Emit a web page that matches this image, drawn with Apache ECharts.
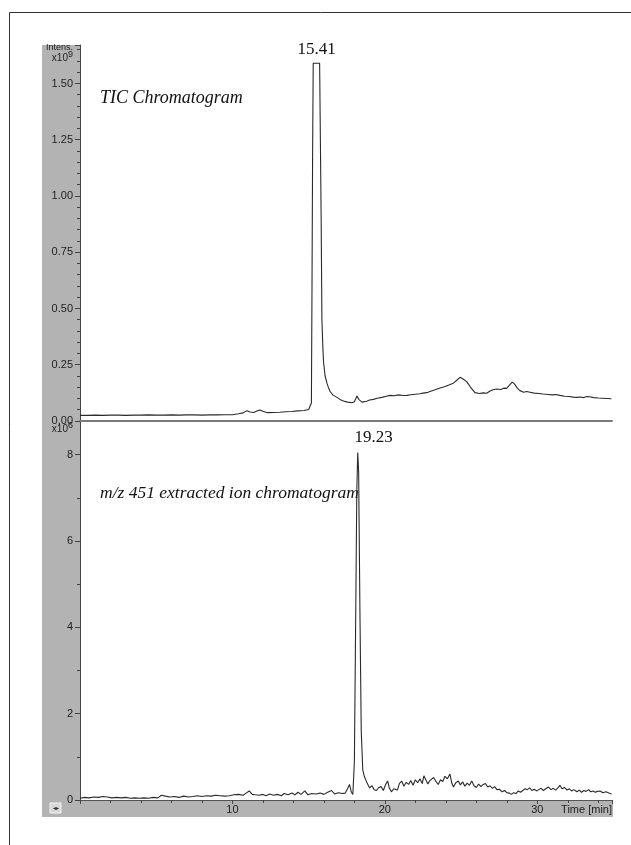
<!DOCTYPE html>
<html>
<head>
<meta charset="utf-8">
<script src="https://cdn.jsdelivr.net/npm/echarts@6/dist/echarts.min.js"></script>
<style>html,body{margin:0;padding:0;background:#fff}#c{width:631px;height:845px}</style>
</head>
<body>
<div id="c"></div>
<script>
// ---- Data (time in min, intensity) ----
const ticTime = [0,0.5,1.0,1.5,2.0,2.5,3.0,3.5,4.0,4.5,5.0,5.5,6.0,6.5,7.0,7.5,8.0,8.5,9.0,9.5,10.0,10.4,10.7,10.95,11.15,11.4,11.6,11.8,12.0,12.3,12.7,13.1,13.5,13.9,14.3,14.7,15.0,15.12,15.18,15.22,15.26,15.30,15.72,15.77,15.82,15.87,15.93,15.98,16.08,16.2,16.3,16.42,16.6,16.86,17.05,17.29,17.55,17.84,18.0,18.17,18.3,18.5,18.8,19.0,19.25,19.5,19.8,20.1,20.35,20.6,20.9,21.2,21.44,21.7,22.0,22.3,22.5,22.75,23.0,23.3,23.62,23.9,24.2,24.49,24.7,24.93,25.1,25.37,25.6,25.91,26.2,26.45,26.68,26.9,27.1,27.33,27.6,27.8,27.99,28.2,28.36,28.5,28.7,28.86,29.1,29.3,29.52,29.8,30.1,30.39,30.7,31.0,31.2,31.48,31.8,32.1,32.35,32.57,32.8,33.05,33.25,33.44,33.7,34.0,34.3,34.6,34.86];
const ticIntensity = [0.025,0.025,0.026,0.025,0.026,0.026,0.025,0.026,0.026,0.027,0.026,0.026,0.027,0.026,0.027,0.027,0.026,0.027,0.027,0.028,0.028,0.032,0.036,0.046,0.040,0.038,0.044,0.049,0.043,0.037,0.038,0.039,0.041,0.042,0.045,0.047,0.051,0.054,0.08,0.6,1.2,1.59,1.59,1.59,0.9,0.45,0.33,0.26,0.2,0.168,0.148,0.13,0.115,0.105,0.096,0.089,0.084,0.081,0.086,0.111,0.095,0.084,0.088,0.093,0.096,0.101,0.105,0.11,0.114,0.112,0.116,0.113,0.114,0.117,0.119,0.121,0.124,0.126,0.132,0.139,0.147,0.152,0.16,0.168,0.18,0.194,0.188,0.175,0.152,0.126,0.122,0.125,0.123,0.133,0.139,0.142,0.14,0.146,0.145,0.162,0.173,0.165,0.145,0.135,0.128,0.131,0.128,0.124,0.122,0.12,0.118,0.116,0.118,0.114,0.11,0.109,0.106,0.105,0.107,0.104,0.109,0.108,0.104,0.102,0.101,0.1,0.099];

const eicTime = [0.0,0.3,0.6,0.9,1.2,1.5,1.8,2.1,2.4,2.7,3.0,3.3,3.6,3.9,4.2,4.5,4.8,5.1,5.35,5.6,5.9,6.2,6.5,6.8,7.1,7.4,7.7,8.0,8.3,8.6,8.9,9.2,9.5,9.8,10.1,10.4,10.7,10.9,11.1,11.3,11.5,11.75,12.0,12.2,12.45,12.7,12.95,13.2,13.4,13.65,13.9,14.1,14.3,14.5,14.75,14.95,15.2,15.5,15.75,16.0,16.25,16.5,16.7,16.95,17.2,17.4,17.55,17.68,17.8,17.9,18.0,18.08,18.16,18.22,18.28,18.36,18.45,18.55,18.65,18.75,18.85,19.0,19.15,19.3,19.45,19.6,19.75,19.9,20.05,20.18,20.3,20.43,20.58,20.7,20.82,20.95,21.1,21.25,21.4,21.56,21.7,21.85,22.0,22.15,22.3,22.45,22.56,22.7,22.82,22.95,23.08,23.2,23.35,23.5,23.65,23.8,23.94,24.1,24.27,24.4,24.5,24.65,24.82,24.95,25.1,25.25,25.4,25.55,25.7,25.85,26.0,26.15,26.3,26.45,26.6,26.75,26.9,27.05,27.2,27.35,27.5,27.7,27.85,28.0,28.15,28.3,28.45,28.6,28.75,28.9,29.05,29.2,29.35,29.5,29.65,29.8,29.95,30.1,30.25,30.4,30.55,30.73,30.9,31.05,31.2,31.35,31.48,31.62,31.78,31.95,32.1,32.25,32.4,32.6,32.75,32.9,33.05,33.2,33.37,33.5,33.65,33.8,33.95,34.12,34.3,34.5,34.7,34.87];
const eicIntensity = [0.04,0.06,0.05,0.07,0.06,0.08,0.07,0.05,0.06,0.05,0.06,0.04,0.05,0.04,0.05,0.04,0.06,0.05,0.11,0.09,0.07,0.08,0.06,0.09,0.07,0.08,0.10,0.08,0.10,0.09,0.11,0.10,0.09,0.10,0.12,0.13,0.11,0.16,0.21,0.13,0.12,0.11,0.13,0.10,0.14,0.11,0.13,0.10,0.15,0.12,0.16,0.12,0.18,0.13,0.21,0.12,0.15,0.14,0.16,0.13,0.18,0.22,0.14,0.17,0.15,0.16,0.26,0.36,0.18,0.13,0.9,4.0,7.2,8.05,7.6,4.5,1.6,0.7,0.55,0.52,0.38,0.28,0.33,0.24,0.22,0.29,0.31,0.22,0.36,0.44,0.27,0.19,0.26,0.30,0.23,0.38,0.44,0.32,0.41,0.36,0.45,0.34,0.47,0.40,0.49,0.38,0.56,0.46,0.37,0.45,0.41,0.52,0.43,0.36,0.47,0.43,0.55,0.49,0.60,0.38,0.30,0.40,0.44,0.35,0.42,0.32,0.39,0.34,0.44,0.33,0.29,0.37,0.31,0.36,0.38,0.30,0.33,0.27,0.31,0.24,0.25,0.19,0.22,0.17,0.16,0.13,0.17,0.15,0.21,0.18,0.22,0.26,0.24,0.28,0.22,0.25,0.21,0.24,0.27,0.22,0.26,0.30,0.24,0.27,0.23,0.28,0.34,0.26,0.29,0.23,0.26,0.21,0.24,0.19,0.23,0.18,0.22,0.20,0.24,0.19,0.21,0.18,0.20,0.21,0.17,0.19,0.16,0.14];

const ticPeak = {time: 15.53, intensity: 1.59, label: '15.41'};
const eicPeak = {time: 18.22, intensity: 8.05, label: '19.23'};
const ticLabel = 'TIC Chromatogram';
const eicLabel = 'm/z 451 extracted ion chromatogram';
const xAxisName = 'Time [min]';

// ---- Chart ----
const chart = echarts.init(document.getElementById('c'), null, {renderer: 'canvas'});
const pair = (t, v) => t.map((x, i) => [x, v[i]]);
const sans = 'Liberation Sans';
const serif = 'Liberation Serif';

const yCommon = {
  type: 'value', min: 0,
  axisLine: {show: true, lineStyle: {color: '#444', width: 1}},
  axisTick: {show: true, length: 5, lineStyle: {color: '#444'}},
  minorTick: {show: true, length: 3, lineStyle: {color: '#444'}},
  splitLine: {show: false},
  axisLabel: {showMaxLabel: false, color: '#222', fontSize: 11, fontFamily: sans, margin: 7}
};

const option = {
  animation: false,
  backgroundColor: '#fff',
  grid: [
    {left: 80, right: 19, top: 45, height: 376},
    {left: 80, right: 19, top: 421, height: 379}
  ],
  xAxis: [
    {gridIndex: 0, type: 'value', min: 0, max: 34.9,
     axisLine: {show: true, lineStyle: {color: '#7a7a7a', width: 2}},
     axisTick: {show: false}, axisLabel: {show: false}, splitLine: {show: false}},
    {gridIndex: 1, type: 'value', min: 0, max: 34.9, interval: 10,
     axisLine: {show: true, lineStyle: {color: '#555', width: 1}},
     axisTick: {show: true, length: 4, lineStyle: {color: '#444'}},
     minorTick: {show: true, splitNumber: 5, length: 3, lineStyle: {color: '#444'}},
     axisLabel: {showMinLabel: false, showMaxLabel: false, color: '#222', fontSize: 11, fontFamily: sans, margin: 4},
     splitLine: {show: false}}
  ],
  yAxis: [
    Object.assign({}, yCommon, {gridIndex: 0, max: 1.671, interval: 0.25, minorTick: Object.assign({}, yCommon.minorTick, {splitNumber: 5}),
      axisLabel: Object.assign({}, yCommon.axisLabel, {formatter: v => v.toFixed(2)})}),
    Object.assign({}, yCommon, {gridIndex: 1, max: 8.78, interval: 2, minorTick: Object.assign({}, yCommon.minorTick, {splitNumber: 2})})
  ],
  series: [
    {type: 'line', xAxisIndex: 0, yAxisIndex: 0, data: pair(ticTime, ticIntensity), showSymbol: false, symbol: 'none',
     lineStyle: {color: '#2a2a2a', width: 1.1}, z: 5,
     markPoint: {symbol: 'circle', symbolSize: 1, itemStyle: {color: 'rgba(0,0,0,0)'},
       label: {show: true, position: 'top', distance: 5, color: '#111', fontFamily: serif, fontSize: 17, formatter: ticPeak.label},
       data: [{coord: [ticPeak.time, ticPeak.intensity]}]}},
    {type: 'line', xAxisIndex: 1, yAxisIndex: 1, data: pair(eicTime, eicIntensity), showSymbol: false, symbol: 'none',
     lineStyle: {color: '#2a2a2a', width: 1.1}, z: 5,
     markPoint: {symbol: 'circle', symbolSize: 1, itemStyle: {color: 'rgba(0,0,0,0)'},
       label: {show: true, position: 'top', distance: 6, offset: [16, 0], color: '#111', fontFamily: serif, fontSize: 17, formatter: eicPeak.label},
       data: [{coord: [eicPeak.time, eicPeak.intensity]}]}}
  ],
  graphic: [
    {type: 'rect', z: -10, silent: true, shape: {x: 42, y: 45, width: 38, height: 772}, style: {fill: '#b3b3b3'}},
    {type: 'rect', z: -10, silent: true, shape: {x: 42, y: 800, width: 571, height: 17}, style: {fill: '#b3b3b3'}},
    {type: 'rect', z: 10, silent: true, shape: {x: 9.5, y: 12.5, width: 700, height: 900}, style: {fill: null, stroke: '#333', lineWidth: 1}},
    {type: 'text', x: 73, y: 48, style: {text: 'Intens.', font: '9px ' + sans, fill: '#222', align: 'right', verticalAlign: 'middle'}},
    {type: 'text', x: 73, y: 58, style: {text: '{b|x10}{s|9}', align: 'right', verticalAlign: 'middle',
      rich: {b: {font: '10px ' + sans, fill: '#222'}, s: {font: '9px ' + sans, fill: '#222', verticalAlign: 'top', padding: [0, 0, 6, 0]}}}},
    {type: 'text', x: 73, y: 429, style: {text: '{b|x10}{s|6}', align: 'right', verticalAlign: 'middle',
      rich: {b: {font: '10px ' + sans, fill: '#222'}, s: {font: '9px ' + sans, fill: '#222', verticalAlign: 'top', padding: [0, 0, 6, 0]}}}},
    {type: 'text', x: 612, y: 810, style: {text: xAxisName, font: '11px ' + sans, fill: '#222', align: 'right', verticalAlign: 'middle'}},
    {type: 'rect', shape: {x: 50, y: 803, width: 11, height: 10}, style: {fill: '#d8d8d8', stroke: '#f4f4f4', lineWidth: 1}},
    {type: 'text', x: 55.5, y: 808, style: {text: '◂▸', font: '6px ' + sans, fill: '#333', align: 'center', verticalAlign: 'middle'}},
    {type: 'text', x: 100, y: 98, style: {text: ticLabel, font: 'italic 18px ' + serif, fill: '#111', align: 'left', verticalAlign: 'middle'}},
    {type: 'text', x: 100, y: 493, style: {text: eicLabel, font: 'italic 17.5px ' + serif, fill: '#111', align: 'left', verticalAlign: 'middle'}}
  ]
};
chart.setOption(option);
</script>
</body>
</html>
